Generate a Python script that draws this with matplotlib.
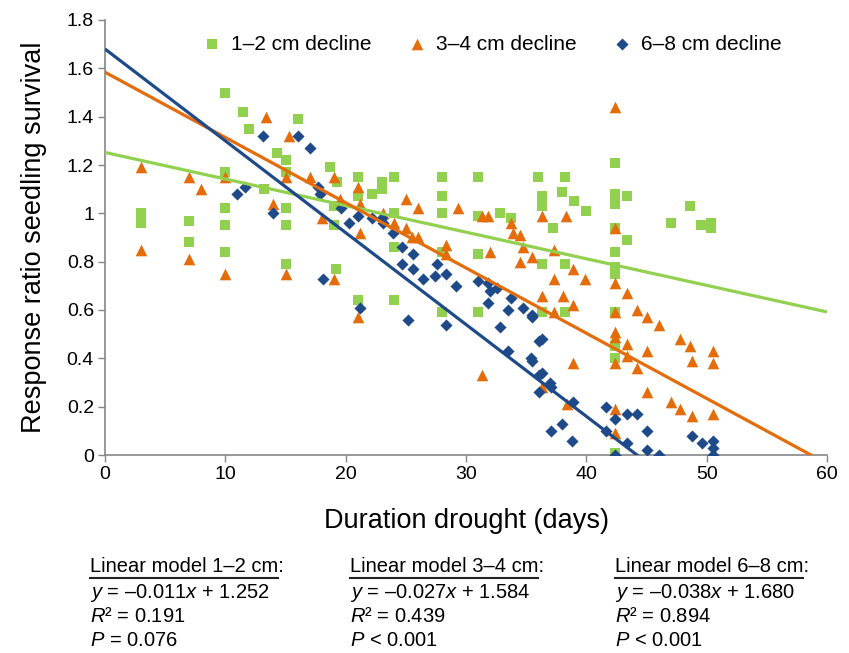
import matplotlib
matplotlib.use('Agg')
import matplotlib.pyplot as plt
import numpy as np

plt.rcParams['font.family'] = ['Liberation Sans', 'DejaVu Sans']
plt.rcParams['mathtext.fontset'] = 'custom'
plt.rcParams['mathtext.rm'] = 'Liberation Sans'
plt.rcParams['mathtext.it'] = 'Liberation Sans:italic'

# 1-2 cm decline
g_x = [3, 3, 7, 7, 10, 10, 10, 10, 10, 11.5, 12, 13.2, 14.3, 15, 15, 15, 15, 15, 16,
       18.7, 19.3, 19, 19, 19.2, 21, 21, 21, 22.2, 23, 23, 24, 24, 24, 24,
       28, 28, 28, 28, 28, 31, 31, 31, 31, 32.8, 33.7,
       36, 36.3, 36.3, 36.3, 36.3, 37.2, 38.2, 38, 39, 40, 38.2, 38.2,
       42.4, 42.4, 42.4, 43.4, 42.4, 43.4, 42.4, 42.4, 42.4, 42.4, 42.4, 42.4, 42.4,
       47, 48.6, 49.5, 50.4, 50.4]
g_y = [1.00, 0.96, 0.97, 0.88, 1.50, 1.17, 1.02, 0.95, 0.84, 1.42, 1.35, 1.10, 1.25, 1.22, 1.17, 1.02, 0.95, 0.79, 1.39,
       1.19, 1.13, 1.03, 0.95, 0.77, 1.15, 1.07, 0.64, 1.08, 1.13, 1.10, 1.15, 1.00, 0.86, 0.64,
       1.15, 1.07, 1.00, 0.84, 0.59, 1.15, 0.99, 0.83, 0.59, 1.00, 0.98,
       1.15, 1.07, 1.03, 0.79, 0.59, 0.94, 1.15, 1.09, 1.05, 1.01, 0.79, 0.59,
       1.21, 1.08, 1.04, 1.07, 0.94, 0.89, 0.84, 0.78, 0.75, 0.59, 0.45, 0.40, 0.01,
       0.96, 1.03, 0.95, 0.96, 0.94]

# 3-4 cm decline
o_x = [3, 3, 7, 7, 8, 10, 10, 13.4, 14, 15.3, 15, 15, 17, 18, 19, 19, 19.5, 21, 21.2, 21.2, 21,
       23.1, 24, 25, 25, 26, 25.5, 26, 28.3, 28.3, 29.3, 31.3, 31.8, 31.3, 32, 33.7, 33.9, 34.5, 34.7, 34.5, 35.5,
       36.3, 36.3, 36.3, 37.3, 37.3, 37.3, 38.3, 38.1, 38.4, 38.9, 38.9, 38.9, 39.9,
       42.4, 42.4, 42.4, 42.4, 42.4, 42.4, 42.4, 42.4, 42.4, 43.4, 43.4, 43.4, 44.2, 44.2,
       45, 45, 45, 46, 47, 47.8, 47.8, 48.6, 48.8, 48.8, 50.5, 50.5, 50.5]
o_y = [1.19, 0.85, 1.15, 0.81, 1.10, 1.15, 0.75, 1.40, 1.04, 1.32, 1.15, 0.75, 1.15, 0.98, 1.15, 0.73, 1.06, 1.11, 1.04, 0.92, 0.57,
       1.00, 0.96, 1.06, 0.94, 1.02, 0.90, 0.90, 0.87, 0.83, 1.02, 0.99, 0.99, 0.33, 0.84, 0.96, 0.92, 0.91, 0.86, 0.80, 0.82,
       0.99, 0.66, 0.28, 0.85, 0.73, 0.59, 0.99, 0.66, 0.21, 0.77, 0.62, 0.38, 0.73,
       1.44, 0.94, 0.71, 0.59, 0.51, 0.49, 0.38, 0.19, 0.09, 0.67, 0.46, 0.41, 0.60, 0.36,
       0.57, 0.43, 0.26, 0.54, 0.22, 0.48, 0.19, 0.45, 0.39, 0.16, 0.43, 0.38, 0.17]

# 6-8 cm decline
b_x = [11, 11.6, 13.1, 14, 16, 17, 17.7, 17.9, 18.1, 19.6, 20.3, 21, 21.2, 22.2, 23, 23.1, 23.9,
       24.7, 24.7, 25.6, 25.6, 25.2, 26.4, 27.4, 27.6, 28.3, 28.3, 29.2, 31, 31.8, 32, 32.6, 31.8,
       33.7, 33.5, 33.5, 32.8, 34.7, 35.5, 35.5, 35.4, 35.5, 36.1, 36.3, 36.1, 36.3, 36.1,
       37, 37.1, 37.1, 38, 38.8, 38.9, 41.6, 41.6, 42.4, 42.4, 43.4, 43.4, 44.2, 45, 45, 46,
       48.8, 49.6, 50.5, 50.5, 50.5]
b_y = [1.08, 1.11, 1.32, 1.00, 1.32, 1.27, 1.11, 1.08, 0.73, 1.02, 0.96, 0.99, 0.61, 0.98, 0.98, 0.96, 0.92,
       0.86, 0.79, 0.83, 0.77, 0.56, 0.73, 0.74, 0.79, 0.75, 0.54, 0.70, 0.72, 0.71, 0.68, 0.69, 0.63,
       0.65, 0.60, 0.43, 0.53, 0.61, 0.58, 0.57, 0.40, 0.39, 0.47, 0.48, 0.33, 0.34, 0.26,
       0.30, 0.28, 0.10, 0.13, 0.06, 0.22, 0.20, 0.10, 0.15, 0.00, 0.17, 0.05, 0.17, 0.10, 0.02, 0.00,
       0.08, 0.05, 0.06, 0.03, 0.00]

# fitted models: slope, intercept, R2, P text
labels = ['1\u20132 cm decline', '3\u20134 cm decline', '6\u20138 cm decline']
slopes = [-0.011, -0.027, -0.038]
intercepts = [1.252, 1.584, 1.680]
r2 = [0.191, 0.439, 0.894]
p_text = ['= 0.076', '< 0.001', '< 0.001']
model_names = ['1\u20132 cm', '3\u20134 cm', '6\u20138 cm']

green = '#92D050'
orange = '#E46C0A'
blue = '#1F4A8A'
spine_col = '#868686'

fig = plt.figure(figsize=(8.49, 6.53), dpi=100)
ax = fig.add_axes([105 / 849, 1 - 455 / 653, 722 / 849, 435 / 653])

ax.scatter(g_x, g_y, marker='s', s=62, color=green, linewidths=0, label=labels[0], zorder=3)
ax.scatter(o_x, o_y, marker='^', s=70, color=orange, linewidths=0, label=labels[1], zorder=3)
ax.scatter(b_x, b_y, marker='D', s=38, color=blue, linewidths=0, label=labels[2], zorder=3)

xx = np.array([0, 60])
for m, c, col in zip(slopes, intercepts, [green, orange, blue]):
    ax.plot(xx, m * xx + c, color=col, lw=2.3, zorder=4, solid_capstyle='butt')

ax.set_xlim(0, 60)
ax.set_ylim(0, 1.8)
ax.set_xticks(range(0, 61, 10))
ax.set_yticks(np.arange(0, 1.81, 0.2))
ax.set_yticklabels(['0', '0.2', '0.4', '0.6', '0.8', '1', '1.2', '1.4', '1.6', '1.8'])
ax.tick_params(direction='out', length=5, width=1, color=spine_col, labelsize=14, pad=3)
for s in ['top', 'right']:
    ax.spines[s].set_visible(False)
for s in ['left', 'bottom']:
    ax.spines[s].set_color(spine_col)
    ax.spines[s].set_linewidth(1.2)

ax.set_xlabel('Duration drought (days)', fontsize=19.5, labelpad=18)
ax.set_ylabel('Response ratio seedling survival', fontsize=19.5, labelpad=14)

ax.legend(loc='upper center', bbox_to_anchor=(0.534, 0.995), ncol=3, frameon=False,
          fontsize=15, handletextpad=0.3, columnspacing=1.6, scatterpoints=1,
          borderaxespad=0.2, handlelength=1.2)

# model summaries under the axes
block_x = [90, 350, 615]
line_y = [567, 593, 617, 641]
fig.canvas.draw()
renderer = fig.canvas.get_renderer()
for bx, name, m, c, r, p in zip(block_x, model_names, slopes, intercepts, r2, p_text):
    fx = bx / 849
    head = fig.text(fx, 1 - line_y[0] / 653, f'Linear model {name}:', fontsize=14.5,
                    va='center', ha='left')
    bb = head.get_window_extent(renderer)
    fig.add_artist(plt.Line2D([bb.x0 / 849, (bb.x1 - 6) / 849],
                              [(bb.y0 - 1) / 653, (bb.y0 - 1) / 653],
                              color='#222222', lw=1.5, transform=fig.transFigure))
    fig.text(fx, 1 - line_y[1] / 653, f'$y$ = \u2013{abs(m):.3f}$x$ + {c:.3f}', fontsize=14.5,
             va='center', ha='left')
    fig.text(fx, 1 - line_y[2] / 653, f'$R$\u00b2 = {r:.3f}', fontsize=14.5, va='center', ha='left')
    fig.text(fx, 1 - line_y[3] / 653, f'$P$ {p}', fontsize=14.5, va='center', ha='left')

fig.savefig('out.png', dpi=100)
